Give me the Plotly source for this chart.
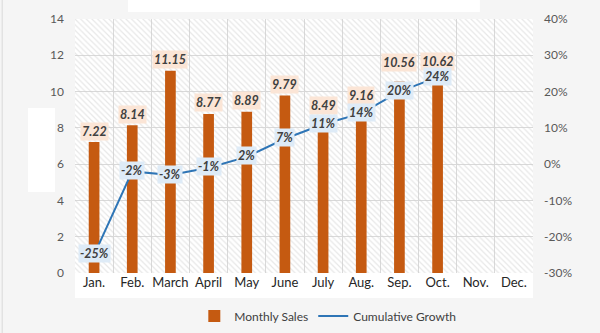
import plotly.graph_objects as go

months = ["Jan.", "Feb.", "March", "April", "May", "June", "July", "Aug.", "Sep.", "Oct.", "Nov.", "Dec."]
sales_months = ["Jan.", "Feb.", "March", "April", "May", "June", "July", "Aug.", "Sep.", "Oct."]
monthly_sales = [7.22, 8.14, 11.15, 8.77, 8.89, 9.79, 8.49, 9.16, 10.56, 10.62]
cumulative_growth = [-0.25, -0.02, -0.03, -0.01, 0.02, 0.07, 0.11, 0.14, 0.20, 0.24]
growth_ticks = [-0.3, -0.2, -0.1, 0.0, 0.1, 0.2, 0.3, 0.4]

BAR_COLOR = "#c55a11"
LINE_COLOR = "#2e75b6"
FONT = "Lato"

fig = go.Figure()

# hatched plot-area background (decorative)
fig.add_trace(go.Bar(
    x=[0.5], y=[1], width=[1], xaxis="x", yaxis="y",
    marker=dict(color="rgba(0,0,0,0)", line=dict(width=0),
                pattern=dict(shape="\\", fgcolor="#d0d0d0", bgcolor="rgba(0,0,0,0)",
                             size=4, solidity=0.3)),
    showlegend=False, hoverinfo="skip",
))

fig.add_trace(go.Bar(
    x=sales_months, y=monthly_sales, name="Monthly Sales",
    xaxis="x2", yaxis="y2", marker=dict(color=BAR_COLOR, line=dict(width=0)),
))
fig.add_trace(go.Scatter(
    x=sales_months, y=cumulative_growth, name="Cumulative Growth",
    xaxis="x2", yaxis="y3", mode="lines", line=dict(color=LINE_COLOR, width=2),
))

annotations = []
extra_lift = {"July": 2, "Sep.": 8, "Oct.": 8}
for m, v in zip(sales_months, monthly_sales):
    annotations.append(dict(
        x=m, y=v, xref="x2", yref="y2", text=f"<b><i>{v:.2f}</i></b>",
        showarrow=False, yanchor="middle", yshift=11 + extra_lift.get(m, 0),
        bgcolor="#fbe5d6", borderpad=1,
        font=dict(family=FONT, size=12.5, color="#404040"),
    ))
for m, g in zip(sales_months, cumulative_growth):
    annotations.append(dict(
        x=m, y=g, xref="x2", yref="y3", text=f"<b><i>{g:.0%}</i></b>",
        showarrow=False, yanchor="middle", yshift=1,
        bgcolor="#deebf7", borderpad=1,
        font=dict(family=FONT, size=12.5, color="#404040"),
    ))

shapes = [
    dict(type="rect", xref="paper", yref="paper", x0=0.1157, x1=0.884, y0=1.0276, y1=1.08,
         fillcolor="white", line=dict(width=0), layer="below"),
    dict(type="rect", xref="paper", yref="paper", x0=-0.1026, x1=-0.0437, y0=0.3189, y1=0.6496,
         fillcolor="white", line=dict(width=0), layer="below"),
    dict(type="rect", xref="paper", yref="paper", x0=0.0, x1=1.0, y0=-0.0984, y1=0.0,
         fillcolor="white", line=dict(width=0), layer="below"),
    dict(type="line", xref="paper", yref="paper", x0=-0.159, x1=-0.159, y0=-0.25, y1=1.08,
         line=dict(color="#d9d9d9", width=1), layer="below"),
]

fig.update_layout(
    width=600, height=333,
    margin=dict(l=75, r=67, t=19, b=60, autoexpand=False),
    paper_bgcolor="#f5f5f5", plot_bgcolor="white",
    font=dict(family=FONT, color="#404040"),
    bargap=0.72,
    showlegend=True,
    legend=dict(orientation="h", x=0.552, xanchor="center", yref="container", y=0.051,
                yanchor="middle",
                font=dict(family=FONT, size=12, color="#404040"), bgcolor="rgba(0,0,0,0)",
                itemwidth=30),
    xaxis=dict(range=[0, 1], visible=False, fixedrange=True),
    yaxis=dict(range=[0, 1], visible=False, fixedrange=True),
    xaxis2=dict(overlaying="x", type="category", categoryorder="array", categoryarray=months,
                range=[-0.5, 11.5], tickmode="array", tickvals=months, tickson="boundaries",
                tickangle=0, automargin=False,
                showgrid=True, gridcolor="#d9d9d9", gridwidth=1, ticks="", showline=False,
                zeroline=False,
                tickfont=dict(family=FONT, size=13, color="#262626")),
    yaxis2=dict(overlaying="y", side="left", range=[0, 14], dtick=2, showgrid=True,
                gridcolor="#d9d9d9", gridwidth=1, zeroline=False, showline=False, ticks="",
                ticklabelstandoff=10, automargin=False,
                tickfont=dict(family=FONT, size=12, color="#595959")),
    yaxis3=dict(overlaying="y", side="right", range=[-0.3, 0.4], tickmode="array",
                tickvals=growth_ticks, ticktext=[f"{t:.0%}" for t in growth_ticks],
                showgrid=False, zeroline=False, showline=False, ticks="",
                ticklabelstandoff=10, automargin=False,
                tickfont=dict(family=FONT, size=12, color="#595959")),
    annotations=annotations,
    shapes=shapes,
)

fig.write_html("out.html")
